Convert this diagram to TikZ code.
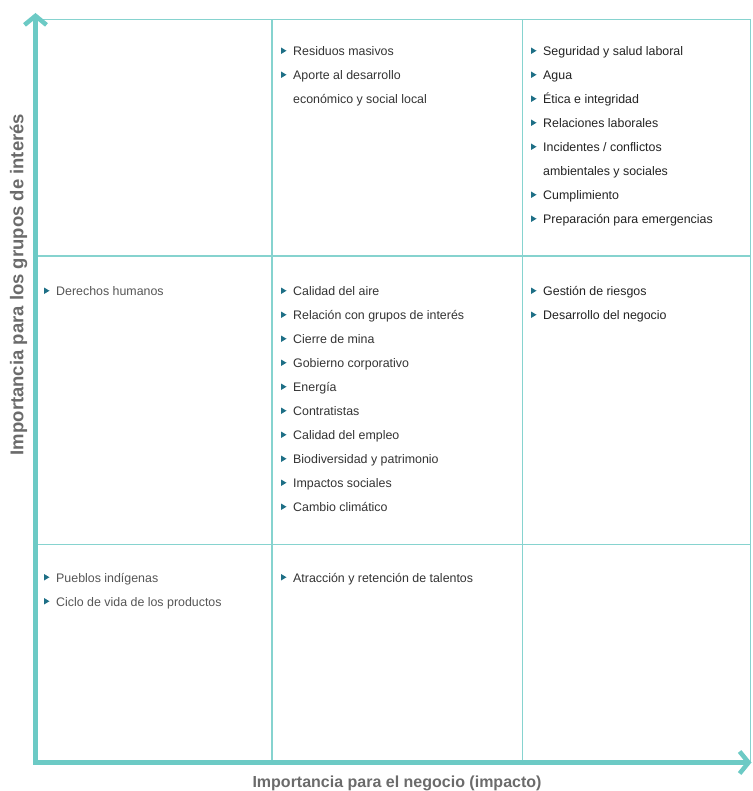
\documentclass[tikz,border=0pt]{standalone}
\usepackage{fontspec}
\setmainfont{Liberation Sans}
\usetikzlibrary{arrows.meta}

\definecolor{axisteal}{HTML}{6CCAC5}
\definecolor{gridteal}{HTML}{86D3CF}
\definecolor{bullteal}{HTML}{1E6F86}
\definecolor{labelgrey}{HTML}{6B6B6B}
\definecolor{lowtext}{HTML}{555555}
\definecolor{midtext}{HTML}{333333}
\definecolor{hightext}{HTML}{222222}

% one cell of the matrix: name, x, first baseline, colour, {bullet/text, ...}
\newcommand{\matlist}[5]{%
    \foreach \b/\txt [count=\i from 0] in {#5} {
        \node[item, text=#4] (#1\i) at (#2, #3 + 24*\i) {\txt};
        \ifnum\b=1 \fill[bullteal] (#1\i.base west) ++(-12, -1.5) -- ++(0, -6.5) -- ++(5.5, 3.25) -- cycle; \fi
    }}

\begin{document}
\begin{tikzpicture}[x=1pt, y=-1pt]
    \tikzset{
        axis/.style={draw=axisteal, line width=4.5pt, -{Straight Barb[length=9pt, width=22pt]}},
        gridline/.style={draw=gridteal, line width=1.4pt},
        item/.style={anchor=base west, inner sep=0pt, font=\fontsize{12.4}{14}\selectfont},
        axislabel/.style={inner sep=0pt, text=labelgrey, font=\fontsize{16}{18}\selectfont\bfseries}
    };
    \useasboundingbox (0, 0) rectangle (752, 791);

    \coordinate (O) at (35.5, 762.5);
    \coordinate (ytip) at (35.5, 13);
    \coordinate (xtip) at (751.5, 762.5);

    % frame and grid
    \draw[gridline] (36, 19.5) -- (750.5, 19.5) -- (750.5, 762.5);
    \foreach \x in {272, 522.5}
        \draw[gridline] (\x, 19.5) -- (\x, 762.5);
    \foreach \y in {256, 544.5}
        \draw[gridline] (35.5, \y) -- (750.5, \y);

    % axes
    \draw[axis] (O) -- (ytip);
    \draw[axis] ([xshift=-2.25pt]O) -- (xtip);

    \node[axislabel, anchor=base] (xlab) at (397, 787.5) {Importancia para el negocio (impacto)};
    \node[axislabel, anchor=base, rotate=90, font=\fontsize{18.5}{20}\selectfont\bfseries] (ylab) at (23.3, 284.5) {Importancia para los grupos de interés};

    % top row
    \matlist{tm}{293}{55.5}{midtext}{1/Residuos masivos, 1/Aporte al desarrollo, 0/económico y social local}
    \matlist{tr}{543}{55.5}{hightext}{1/Seguridad y salud laboral, 1/Agua, 1/Ética e integridad,
        1/Relaciones laborales, 1/{Incidentes / conflictos}, 0/ambientales y sociales,
        1/Cumplimiento, 1/Preparación para emergencias}

    % middle row
    \matlist{ml}{56}{295.5}{lowtext}{1/Derechos humanos}
    \matlist{mm}{293}{295.5}{midtext}{1/Calidad del aire, 1/Relación con grupos de interés,
        1/Cierre de mina, 1/Gobierno corporativo, 1/Energía, 1/Contratistas,
        1/Calidad del empleo, 1/Biodiversidad y patrimonio, 1/Impactos sociales, 1/Cambio climático}
    \matlist{mr}{543}{295.5}{hightext}{1/Gestión de riesgos, 1/Desarrollo del negocio}

    % bottom row
    \matlist{bl}{56}{582}{lowtext}{1/Pueblos indígenas, 1/Ciclo de vida de los productos}
    \matlist{bm}{293}{582}{midtext}{1/Atracción y retención de talentos}
\end{tikzpicture}
\end{document}
